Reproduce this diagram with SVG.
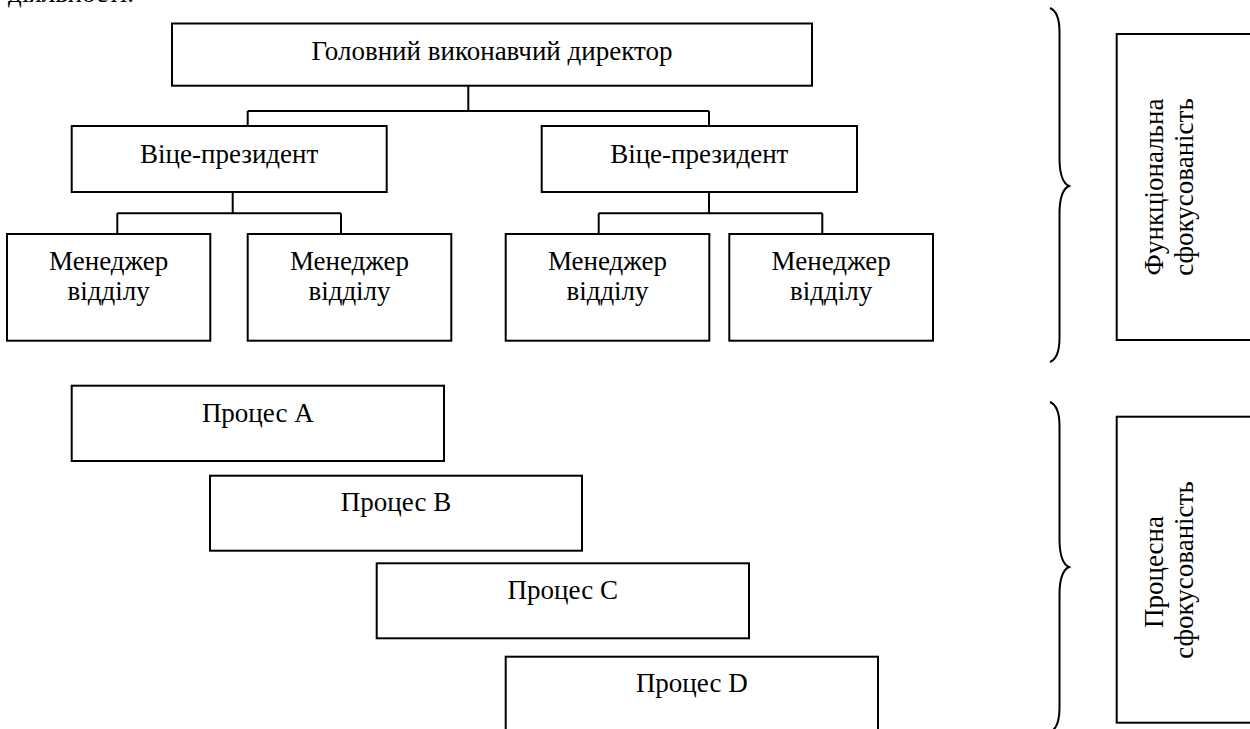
<svg xmlns="http://www.w3.org/2000/svg" width="1250" height="729" viewBox="0 0 1250 729">
<style>
.b{fill:#fff;stroke:#000;stroke-width:2}
.t{font-family:"Liberation Serif","Times New Roman",serif;font-size:27px;fill:#000;text-anchor:middle}
.c{fill:none;stroke:#000;stroke-width:2}
</style>
<rect width="1250" height="729" fill="#fff"/>
<text class="t" x="8" y="2" style="text-anchor:start">діяльності.</text>
<g id="connectors">
<path class="c" d="M468.3,85.7V111M247.7,111H709M247.7,111V126M709,111V126"/>
<path class="c" d="M232.7,192V213.3M117.3,213.3H341M117.3,213.3V234M341,213.3V234"/>
<path class="c" d="M709,192V213.3M598.7,213.3H822.3M598.7,213.3V234M822.3,213.3V234"/>
</g>
<g id="ceo"><rect class="b" x="172" y="23.5" width="640" height="62.2"/><text class="t" x="492" y="60">Головний виконавчий директор</text></g>
<g id="vp1"><rect class="b" x="71.7" y="126" width="315" height="66"/><text class="t" x="229.2" y="162.5">Віце-президент</text></g>
<g id="vp2"><rect class="b" x="541.7" y="126" width="315.3" height="66"/><text class="t" x="699.3" y="162.5">Віце-президент</text></g>
<g id="m1"><rect class="b" x="7" y="234" width="203.3" height="106.7"/><text class="t" x="108.7" y="269.5">Менеджер</text><text class="t" x="108.7" y="300">відділу</text></g>
<g id="m2"><rect class="b" x="247.7" y="234" width="203.6" height="106.7"/><text class="t" x="349.5" y="269.5">Менеджер</text><text class="t" x="349.5" y="300">відділу</text></g>
<g id="m3"><rect class="b" x="505.7" y="234" width="203.6" height="106.7"/><text class="t" x="607.5" y="269.5">Менеджер</text><text class="t" x="607.5" y="300">відділу</text></g>
<g id="m4"><rect class="b" x="729.3" y="234" width="203.7" height="106.7"/><text class="t" x="831.2" y="269.5">Менеджер</text><text class="t" x="831.2" y="300">відділу</text></g>
<g id="pA"><rect class="b" x="71.7" y="385.7" width="372.3" height="75.3"/><text class="t" x="257.8" y="422.3">Процес А</text></g>
<g id="pB"><rect class="b" x="210" y="475.7" width="372" height="75"/><text class="t" x="396" y="511">Процес В</text></g>
<g id="pC"><rect class="b" x="376.7" y="563.3" width="372.3" height="75"/><text class="t" x="562.8" y="599">Процес С</text></g>
<g id="pD"><rect class="b" x="505.7" y="656.7" width="372.3" height="80"/><text class="t" x="691.8" y="692.3">Процес D</text></g>
<g id="brace1"><path class="c" d="M1050,8Q1059.5,12 1059.5,32V160Q1060,182 1069,186Q1060,190 1059.5,212V338Q1059.5,358 1050,362"/></g>
<g id="brace2"><path class="c" d="M1050,402Q1059.5,406 1059.5,426V541Q1060,563 1069,567Q1060,571 1059.5,593V708Q1059.5,728 1050,732"/></g>
<g id="func"><rect class="b" x="1116.7" y="34" width="150" height="306"/><text class="t" transform="rotate(-90 1163 187)" x="1163" y="187">Функціональна</text><text class="t" transform="rotate(-90 1193 187)" x="1193" y="187">сфокусованість</text></g>
<g id="proc"><rect class="b" x="1116.7" y="416.7" width="150" height="306"/><text class="t" transform="rotate(-90 1163 572)" x="1163" y="572">Процесна</text><text class="t" transform="rotate(-90 1193 570)" x="1193" y="570">сфокусованість</text></g>
</svg>
